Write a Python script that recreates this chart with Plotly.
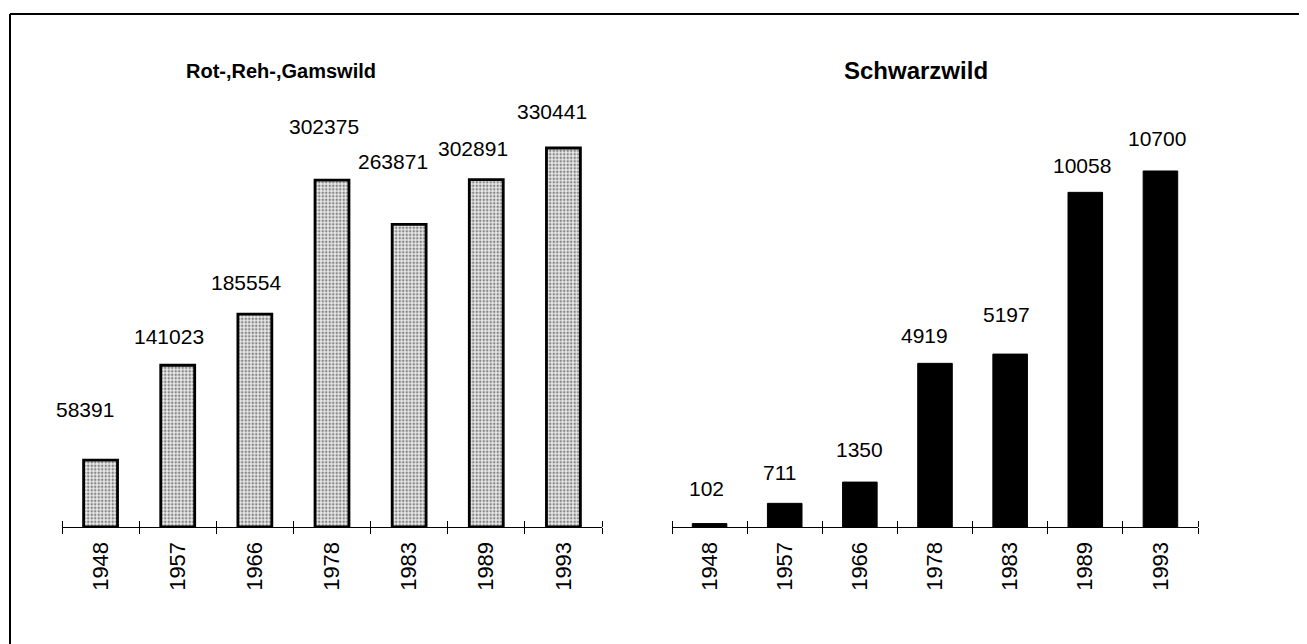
import plotly.graph_objects as go

# ---- data ----
years = ["1948", "1957", "1966", "1978", "1983", "1989", "1993"]
rot_reh_gams = [58391, 141023, 185554, 302375, 263871, 302891, 330441]
schwarzwild = [102, 711, 1350, 4919, 5197, 10058, 10700]
title_left = "Rot-,Reh-,Gamswild"
title_right = "Schwarzwild"

# ---- layout geometry (pixels in the browser window) ----
W, H = 1307, 644
OFF = 8  # default page body margin
base_px = 527
left_x = (62, 602)
right_x = (672, 1198)
left_range = 360000
left_top_px = base_px - left_range * (base_px - 148) / 330441
right_range = 12000
right_top_px = base_px - right_range * (base_px - 171) / 10700

# label offsets (style only)
left_yshift = [51, 29, 32, 54, 63, 31, 36]
left_xshift = [-16, -9, -9, -8, -16, -13, -11]
right_yshift = [35, 31, 33, 28, 40, 27, 32]
right_xshift = [-3, -5, 0, -11, -4, -3, -3]

FONT = "Liberation Sans, Arial, Helvetica, sans-serif"

def py(p):
    return (H - (p - OFF)) / H

def px(p):
    return (p - OFF) / W

n = len(years)

fig = go.Figure()
fig.add_trace(go.Bar(
    x=years, y=rot_reh_gams, xaxis="x", yaxis="y", width=0.44,
    marker=dict(color="white", line=dict(color="black", width=2.8),
                pattern=dict(shape=".", fgcolor="#222222", bgcolor="#ebebeb",
                             size=3.5, solidity=0.42)),
    hoverinfo="x+y", showlegend=False))
fig.add_trace(go.Bar(
    x=years, y=schwarzwild, xaxis="x2", yaxis="y2", width=0.46,
    marker=dict(color="black", line=dict(color="black", width=1)),
    hoverinfo="x+y", showlegend=False))
# invisible helper traces on the upper tick axes (upper half of the crossing ticks)
fig.add_trace(go.Bar(x=years, y=rot_reh_gams, xaxis="x3", yaxis="y", opacity=0,
                     hoverinfo="skip", showlegend=False))
fig.add_trace(go.Bar(x=years, y=schwarzwild, xaxis="x4", yaxis="y2", opacity=0,
                     hoverinfo="skip", showlegend=False))

annotations = []
for i, v in enumerate(rot_reh_gams):
    annotations.append(dict(x=i, y=v, xref="x", yref="y", text=str(v), showarrow=False,
                            yanchor="middle", xanchor="center", yshift=left_yshift[i],
                            xshift=left_xshift[i], font=dict(family=FONT, size=21, color="black")))
for i, v in enumerate(schwarzwild):
    annotations.append(dict(x=i, y=v, xref="x2", yref="y2", text=str(v), showarrow=False,
                            yanchor="middle", xanchor="center", yshift=right_yshift[i],
                            xshift=right_xshift[i], font=dict(family=FONT, size=21, color="black")))
annotations.append(dict(x=px(281), y=py(71), xref="paper", yref="paper", text="<b>%s</b>" % title_left,
                        showarrow=False, xanchor="center", yanchor="middle",
                        font=dict(family=FONT, size=20, color="black")))
annotations.append(dict(x=px(916), y=py(71), xref="paper", yref="paper", text="<b>%s</b>" % title_right,
                        showarrow=False, xanchor="center", yanchor="middle",
                        font=dict(family=FONT, size=24, color="black")))

common_x = dict(type="category", categoryarray=years, categoryorder="array",
                tickson="boundaries", ticks="outside", ticklen=6,
                tickwidth=1.2, tickcolor="black", showline=True, linecolor="black", linewidth=1.2,
                showgrid=False, zeroline=False, tickangle=-90, range=[-0.5, n - 0.5],
                ticklabelstandoff=5,
                tickfont=dict(family=FONT, size=22, color="black"), fixedrange=True)
upper_x = dict(type="category", categoryarray=years, categoryorder="array",
               tickson="boundaries", ticks="outside", ticklen=6, side="top", anchor="free",
               position=py(base_px),
               tickwidth=1.2, tickcolor="black", showticklabels=False, showline=False,
               showgrid=False, zeroline=False, range=[-0.5, n - 0.5], fixedrange=True)
common_y = dict(showticklabels=False, ticks="", showline=False, showgrid=False,
                zeroline=False, fixedrange=True)

fig.update_layout(
    width=W, height=H, margin=dict(l=0, r=0, t=0, b=0),
    paper_bgcolor="white", plot_bgcolor="rgba(0,0,0,0)", bargap=0.5, barmode="overlay",
    xaxis=dict(common_x, domain=[px(left_x[0]), px(left_x[1])], anchor="y"),
    xaxis2=dict(common_x, domain=[px(right_x[0]), px(right_x[1])], anchor="y2"),
    xaxis3=dict(upper_x, overlaying="x", domain=[px(left_x[0]), px(left_x[1])]),
    xaxis4=dict(upper_x, overlaying="x2", domain=[px(right_x[0]), px(right_x[1])]),
    yaxis=dict(common_y, domain=[py(base_px), py(left_top_px)], range=[0, left_range]),
    yaxis2=dict(common_y, domain=[py(base_px), py(right_top_px)], range=[0, right_range]),
    annotations=annotations,
    shapes=[
        dict(type="line", xref="paper", yref="paper", x0=px(10), x1=1, y0=py(14), y1=py(14),
             line=dict(color="black", width=2)),
        dict(type="line", xref="paper", yref="paper", x0=px(10), x1=px(10), y0=py(14), y1=0,
             line=dict(color="black", width=2)),
    ],
)

fig.write_html("out.html")
